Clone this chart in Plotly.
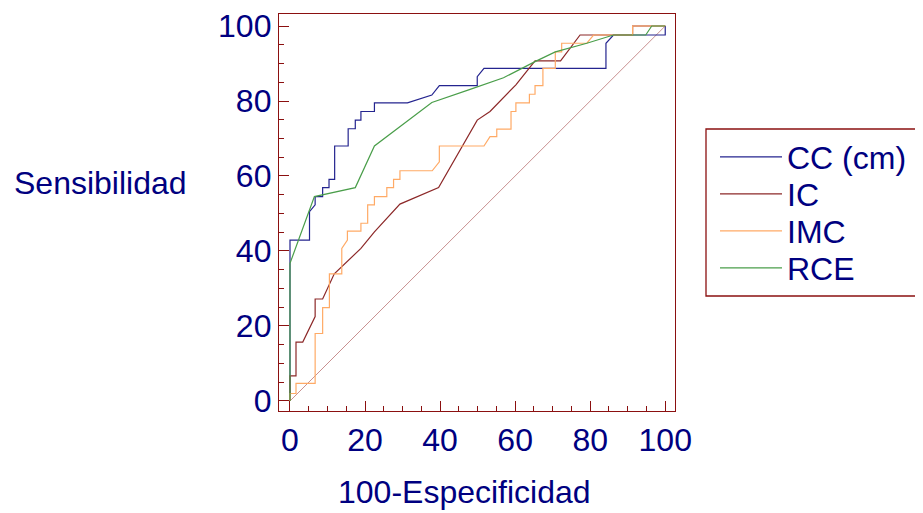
import plotly.graph_objects as go

# 100-Especificidad (x) and Sensibilidad (y) for each ROC curve
cc_x = [0, 0, 5.2, 5.2, 6.7, 6.7, 8.7, 8.7, 10.4, 10.4, 11.9, 11.9, 15.5, 15.5, 17.4, 17.4,
        18.9, 18.9, 22.5, 22.5, 31.3, 37.8, 39.8, 49.9, 49.9, 51.7, 84.2, 84.2, 86.2, 100, 100]
cc_y = [0, 42.9, 42.9, 50.5, 52.3, 54.5, 54.5, 56.9, 56.9, 59.1, 59.1, 68.0, 68.0, 72.6, 72.6, 74.9,
        74.9, 77.2, 77.2, 79.5, 79.5, 81.6, 84.1, 84.1, 86.5, 88.7, 88.7, 95.4, 97.6, 97.6, 100]

ic_x = [0, 0, 1.6, 1.6, 3.4, 6.7, 6.7, 8.7, 11.8, 18.9, 22.5, 29.3, 39.6, 49.9, 53.3, 60.2,
        65.3, 72.1, 77.3, 91.3, 91.3, 100]
ic_y = [0, 6.7, 6.7, 15.7, 15.7, 22.5, 27.2, 27.2, 33.9, 40.7, 45.1, 52.5, 56.9, 74.9, 77.2, 84.3,
        90.7, 90.7, 97.6, 97.6, 100, 100]

imc_x = [0, 0, 1.6, 1.6, 6.7, 6.7, 8.7, 8.7, 10.5, 10.5, 13.8, 13.8, 15.3, 15.3, 18.9, 18.9,
         20.7, 20.7, 22.5, 22.5, 25.8, 25.8, 27.6, 27.6, 29.3, 29.3, 37.9, 39.8, 39.8, 51.7,
         53.3, 55.1, 55.1, 58.9, 58.9, 60.2, 60.2, 63.8, 63.8, 65.3, 65.3, 67.4, 67.4, 70.7,
         70.7, 72.4, 72.4, 79.1, 80.9, 91.3, 91.3, 100]
imc_y = [0, 2.0, 2.0, 4.7, 4.7, 18.0, 18.0, 24.9, 24.9, 33.9, 33.9, 40.7, 42.9, 45.3, 45.3, 47.4,
         47.4, 52.3, 52.3, 54.5, 54.5, 56.9, 56.9, 59.1, 59.1, 61.4, 61.4, 63.8, 68.0, 68.0,
         70.5, 70.5, 72.5, 72.5, 77.2, 77.2, 79.5, 79.5, 81.8, 81.8, 84.1, 84.1, 88.7, 88.7,
         93.1, 93.1, 95.4, 95.4, 97.6, 97.6, 100, 100]

rce_x = [0, 0, 6.5, 17.4, 22.5, 37.8, 48.0, 56.9, 65.3, 70.7, 79.1, 86.2, 94.8, 96.4, 100]
rce_y = [0, 36.7, 54.5, 56.9, 68.0, 79.6, 83.1, 86.2, 90.5, 93.1, 95.4, 97.6, 97.6, 100, 100]

ref_x = [0, 100]
ref_y = [0, 100]

names = ["CC (cm)", "IC", "IMC", "RCE"]
colors = ["#24248f", "#8c2828", "#ffaa66", "#4a9e4a"]

TXT = "#000080"
AX = "#8b1010"
FONT = "Liberation Sans, Arial, sans-serif"
FS = 32

# the page body adds an 8px offset; compensate so the picture matches
OFF = 8
W, H = 923 - OFF, 513 - OFF
L, T = 279 - OFF, 14 - OFF
R, B = 923 - 675, 513 - 411
pw, ph = W - L - R, H - T - B

def px(xp):
    return (xp - OFF - L) / pw

def py(yp):
    return (H - B - (yp - OFF)) / ph

fig = go.Figure()
fig.add_trace(go.Scatter(x=ref_x, y=ref_y, mode="lines", line=dict(color="#c89090", width=1),
                         showlegend=False, hoverinfo="skip"))
series = [(cc_x, cc_y), (ic_x, ic_y), (imc_x, imc_y), (rce_x, rce_y)]
leg_ids = ["legend", "legend2", "legend3", "legend4"]
leg_y = [157, 194, 231, 268]
for (xs, ys), n, c, lg in zip(series, names, colors, leg_ids):
    fig.add_trace(go.Scatter(x=xs, y=ys, mode="lines", name=n, legend=lg,
                             line=dict(color=c, width=1.2)))

axis_common = dict(
    showgrid=False, zeroline=False, showline=True, linecolor=AX, linewidth=1.3, mirror=True,
    ticks="inside", ticklen=10, tickwidth=1.3, tickcolor=AX, dtick=20, tick0=0,
    automargin=False,
    tickfont=dict(family=FONT, size=FS, color=TXT),
    minor=dict(ticks="inside", ticklen=5, tickwidth=1, tickcolor=AX, dtick=5, tick0=0, showgrid=False),
)
fig.update_xaxes(range=[-2.93, 102.6], **axis_common)
fig.update_yaxes(range=[-2.67, 103.2], **axis_common)

legends = {}
for lg, yy in zip(leg_ids, leg_y):
    legends[lg] = dict(x=px(715), y=py(yy), xanchor="left", yanchor="middle",
                       bgcolor="rgba(0,0,0,0)", borderwidth=0, itemwidth=62,
                       font=dict(family=FONT, size=FS, color=TXT))

fig.update_layout(
    width=W, height=H, margin=dict(l=L, r=R, t=T, b=B, pad=0, autoexpand=False),
    plot_bgcolor="white", paper_bgcolor="white",
    font=dict(family=FONT, size=FS, color=TXT),
    **legends,
    shapes=[dict(type="rect", xref="paper", yref="paper",
                 x0=px(706), x1=px(940), y0=py(296), y1=py(129),
                 line=dict(color=AX, width=1.3), fillcolor="rgba(0,0,0,0)")],
    annotations=[
        dict(text="Sensibilidad", xref="paper", yref="paper", x=px(12), y=py(183),
             xanchor="left", yanchor="middle", showarrow=False,
             font=dict(family=FONT, size=FS, color=TXT)),
        dict(text="100-Especificidad", xref="paper", yref="paper", x=px(464), y=py(492),
             xanchor="center", yanchor="middle", showarrow=False,
             font=dict(family=FONT, size=FS, color=TXT)),
    ],
)

fig.write_html("out.html")
